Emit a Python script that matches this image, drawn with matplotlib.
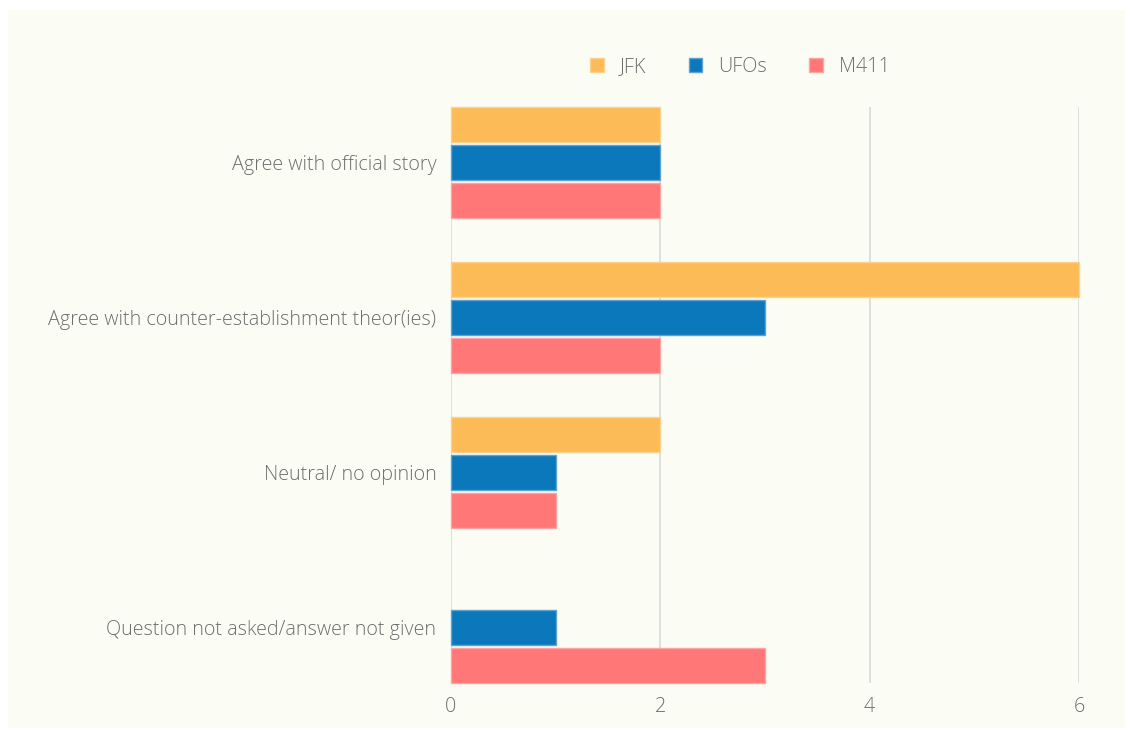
import matplotlib.pyplot as plt
import numpy as np
from matplotlib.patches import Rectangle

plt.rcParams['font.family'] = ['Open Sans', 'DejaVu Sans']

# Datos
categories = ['Agree with official story',
              'Agree with counter-establishment theor(ies)',
              'Neutral/ no opinion',
              'Question not asked/answer not given']
series = ['JFK', 'UFOs', 'M411']
jfk = [2, 6, 2, 0]
ufos = [2, 3, 1, 1]
m411 = [2, 2, 1, 3]
x_ticks = [0, 2, 4, 6]

colors = ['#fdbb58', '#0c78bc', '#ff7777']
edge_colors = ['#fdd08c', '#5fa3d2', '#ffa3a3']
bg = '#fbfdf5'
text_col = '#6e6e6e'

fig = plt.figure(figsize=(11.33, 7.36), dpi=100)
fig.patch.set_facecolor('white')
fig.patches.append(Rectangle((8 / 1133, 8 / 736), 1117 / 1133, 718 / 736,
                             transform=fig.transFigure, facecolor=bg,
                             edgecolor='none', zorder=-10))

ax = fig.add_axes([451 / 1133, 53 / 736, 628 / 1133, 576 / 736])
ax.set_facecolor('none')
ax.set_zorder(2)

y = np.arange(len(categories))
h = 0.226
step = 0.245
for i, (name, vals) in enumerate(zip(series, [jfk, ufos, m411])):
    # sin borde en las barras con valor cero
    lw = [1.0 if v > 0 else 0 for v in vals]
    ax.barh(y + (i - 1) * step, vals, height=h, color=colors[i],
            edgecolor=edge_colors[i], linewidth=lw, label=name,
            zorder=3, clip_on=False)

ax.set_xlim(0, 6)
ax.set_ylim(3.358, -0.358)

ax.set_xticks(x_ticks)
ax.set_xticklabels([str(t) for t in x_ticks])
ax.set_yticks(y)
ax.set_yticklabels(categories)
ax.tick_params(axis='both', length=0, labelcolor=text_col, labelsize=14.2)
ax.tick_params(axis='y', pad=10.5)
ax.tick_params(axis='x', pad=10)
for lbl in ax.get_xticklabels() + ax.get_yticklabels():
    lbl.set_fontweight('light')

ax.grid(True, axis='x', color='#dcdcdc', linewidth=1.3, zorder=0)
for s in ax.spines.values():
    s.set_visible(False)

leg = fig.legend(loc='center', bbox_to_anchor=(740 / 1133, 1 - 67 / 736),
                 ncol=3, frameon=False, handlelength=0.7, handleheight=0.7,
                 handletextpad=0.8, columnspacing=2.15, fontsize=14.2)
for t in leg.get_texts():
    t.set_color(text_col)
    t.set_fontweight('light')

fig.savefig('out.png', dpi=100, facecolor='white')
plt.close()
